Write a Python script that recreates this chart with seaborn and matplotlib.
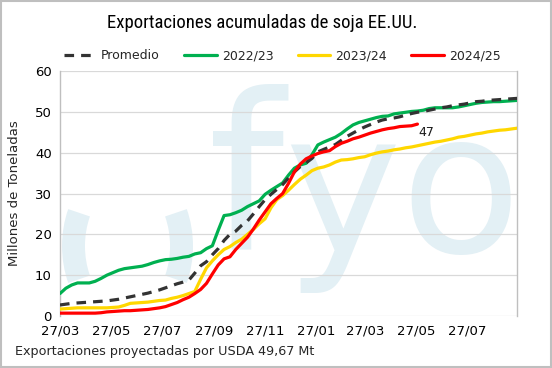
import pandas as pd
import numpy as np
import matplotlib
matplotlib.use("Agg")
import matplotlib.pyplot as plt
import matplotlib.dates as mdates
from matplotlib.patches import Rectangle, Arc
from matplotlib import font_manager
import seaborn as sns

# ==========================================
# Data (weekly, million tonnes)
# ==========================================

start_date = "2024-03-27"
n_weeks = 79

promedio = [
    2.7, 2.9, 3.1, 3.2, 3.3, 3.4, 3.5, 3.6, 3.7, 3.9,
    4.1, 4.4, 4.7, 5.0, 5.3, 5.6, 6.0, 6.4, 6.9, 7.4,
    7.9, 8.3, 8.8, 10.5, 12.3, 13.3, 15.0, 16.5, 18.5, 20.0,
    20.8, 22.2, 23.3, 25.0, 26.8, 28.5, 29.8, 31.0, 32.2, 33.8,
    35.3, 36.6, 37.5, 38.6, 40.2, 40.8, 41.4, 42.0, 43.0, 44.0,
    44.8, 45.6, 46.3, 46.9, 47.5, 48.0, 48.3, 48.5, 48.8, 49.2,
    49.6, 49.9, 50.1, 50.4, 50.7, 51.0, 51.2, 51.5, 51.7, 51.9,
    52.2, 52.5, 52.6, 52.8, 52.9, 53.0, 53.1, 53.2, 53.3,
]

s2022_23 = [
    5.5, 6.8, 7.6, 8.1, 8.1, 8.1, 8.5, 9.2, 10.0, 10.6,
    11.2, 11.6, 11.8, 12.0, 12.2, 12.6, 13.1, 13.5, 13.8, 13.9,
    14.1, 14.4, 14.6, 15.2, 15.5, 16.5, 17.2, 21.0, 24.6, 24.8,
    25.3, 25.9, 26.8, 27.5, 28.2, 29.8, 30.8, 31.7, 32.6, 34.5,
    36.2, 37.0, 37.4, 39.5, 41.9, 42.6, 43.2, 43.8, 44.7, 45.8,
    46.8, 47.4, 47.8, 48.2, 48.6, 48.9, 49.0, 49.5, 49.7, 49.9,
    50.1, 50.2, 50.4, 50.8, 51.0, 51.0, 51.0, 51.0, 51.2, 51.5,
    51.8, 52.1, 52.3, 52.4, 52.5, 52.5, 52.6, 52.7, 52.8,
]

s2023_24 = [
    1.7, 1.8, 1.9, 2.0, 2.0, 2.0, 2.0, 2.0, 2.0, 2.1,
    2.2, 2.6, 3.1, 3.2, 3.3, 3.4, 3.6, 3.8, 3.9, 4.3,
    4.6, 5.0, 5.5, 6.0, 9.0, 11.8, 13.5, 15.0, 16.3, 17.0,
    18.0, 18.8, 20.0, 21.2, 22.6, 23.8, 26.5, 28.5, 29.5, 30.8,
    32.2, 33.5, 34.5, 35.6, 36.2, 36.5, 37.0, 37.7, 38.2, 38.3,
    38.5, 38.8, 39.0, 39.5, 39.9, 40.2, 40.4, 40.7, 40.9, 41.2,
    41.4, 41.7, 42.0, 42.3, 42.6, 42.8, 43.1, 43.4, 43.8, 44.0,
    44.3, 44.6, 44.8, 45.1, 45.3, 45.5, 45.6, 45.8, 46.0,
]

s2024_25 = [
    0.7, 0.7, 0.7, 0.7, 0.7, 0.7, 0.7, 0.8, 1.0, 1.1,
    1.2, 1.3, 1.3, 1.4, 1.5, 1.6, 1.8, 2.0, 2.3, 2.8,
    3.3, 4.0, 4.6, 5.5, 6.5, 8.0, 10.3, 12.5, 14.0, 14.5,
    16.3, 17.8, 19.3, 21.3, 23.5, 25.5, 27.5, 28.8, 30.0, 32.5,
    35.3, 37.2, 38.5, 39.2, 39.8, 40.2, 40.5, 41.5, 42.3, 42.8,
    43.4, 43.8, 44.3, 44.8, 45.2, 45.6, 45.9, 46.1, 46.4, 46.5,
    46.6, 47.0,
]

tick_dates = [
    "2024-03-27", "2024-05-27", "2024-07-27", "2024-09-27", "2024-11-27",
    "2025-01-27", "2025-03-27", "2025-05-27", "2025-07-27",
]

dates = pd.date_range(start_date, periods=n_weeks, freq="7D")

# ==========================================
# Figure
# ==========================================

sns.set_style("white")
plt.rcParams["font.family"] = ["DejaVu Sans"]

# narrow font for the title if one is available
installed = {f.name for f in font_manager.fontManager.ttflist}
title_font, title_size = "Lato", 13.5
for name in ["Roboto Condensed", "Liberation Sans Narrow", "Open Sans Condensed"]:
    if name in installed:
        title_font, title_size = name, 13.5
        break

fig = plt.figure(figsize=(5.52, 3.68), dpi=100)
ax = fig.add_axes([0.1087, 0.1413, 0.828, 0.6657])

# watermark
wm = "#e3f0f5"
ax.text(0.324, 0.27, "f", transform=ax.transAxes, fontsize=156,
        color=wm, zorder=0, ha="left", va="baseline", clip_on=True)
ax.text(0.49, 0.262, "yo", transform=ax.transAxes, fontsize=142,
        color=wm, zorder=0, ha="left", va="baseline", clip_on=True)
# first "o" of the logo drawn as two arcs (axes fraction of a 457x245 px box)
for t1, t2 in [(128, 232), (-52, 52)]:
    ax.add_patch(Arc((67.5 / 457, 70 / 245), 108 / 457, 150 / 245, theta1=t1,
                     theta2=t2, transform=ax.transAxes, color=wm,
                     linewidth=16.5, zorder=0, clip_on=True))

lw = 2.3
sns.lineplot(x=dates, y=s2022_23, ax=ax, color="#00B050", linewidth=lw,
             label="2022/23", zorder=3)
sns.lineplot(x=dates, y=s2023_24, ax=ax, color="#FFD700", linewidth=lw,
             label="2023/24", zorder=3)
sns.lineplot(x=dates, y=promedio, ax=ax, color="#333333", linewidth=lw,
             linestyle=(0, (3, 2.2)), label="Promedio", zorder=4)
sns.lineplot(x=dates[:len(s2024_25)], y=s2024_25, ax=ax, color="#FF0000",
             linewidth=lw, label="2024/25", zorder=5)

ax.annotate(f"{s2024_25[-1]:.0f}", (dates[len(s2024_25) - 1], s2024_25[-1]),
            xytext=(1, -6), textcoords="offset points", fontsize=9,
            color="#1a1a1a", ha="left", va="center", zorder=6)

ax.set_ylim(0, 60)
ax.set_yticks(range(0, 61, 10))
ax.set_xlim(dates[0], dates[-1])
ax.set_xticks(pd.to_datetime(tick_dates))
ax.xaxis.set_major_formatter(mdates.DateFormatter("%d/%m"))
ax.tick_params(axis="both", length=0, labelsize=9.5, colors="#000000", pad=6)
ax.grid(axis="y", color="#d9d9d9", linewidth=0.9)
ax.grid(axis="x", visible=False)
ax.set_xlabel("")

for side in ["top", "bottom"]:
    ax.spines[side].set_visible(False)
for side in ["left", "right"]:
    ax.spines[side].set_color("#bfbfbf")
    ax.spines[side].set_linewidth(1)

ax.set_ylabel("Millones de Toneladas", fontsize=9.5, labelpad=10)

# legend
handles, labels = ax.get_legend_handles_labels()
order = [labels.index(l) for l in ["Promedio", "2022/23", "2023/24", "2024/25"]]
ax.legend([handles[i] for i in order], [labels[i] for i in order],
          loc="lower center", bbox_to_anchor=(0.486, 1.0), ncol=4, frameon=False,
          fontsize=9, handlelength=2.6, handletextpad=0.4, columnspacing=1.95,
          borderaxespad=0.3)

fig.text(0.475, 0.938, "Exportaciones acumuladas de soja EE.UU.", ha="center",
         va="center", fontsize=title_size, family=[title_font, "DejaVu Sans"],
         color="#000000")

fig.text(0.027, 0.045, "Exportaciones proyectadas por USDA 49,67 Mt",
         ha="left", va="center", fontsize=9.2)

fig.add_artist(Rectangle((0.002, 0.003), 0.996, 0.994, transform=fig.transFigure,
                         fill=False, edgecolor="#bfbfbf", linewidth=1.5))

fig.savefig("out.png", dpi=100)
